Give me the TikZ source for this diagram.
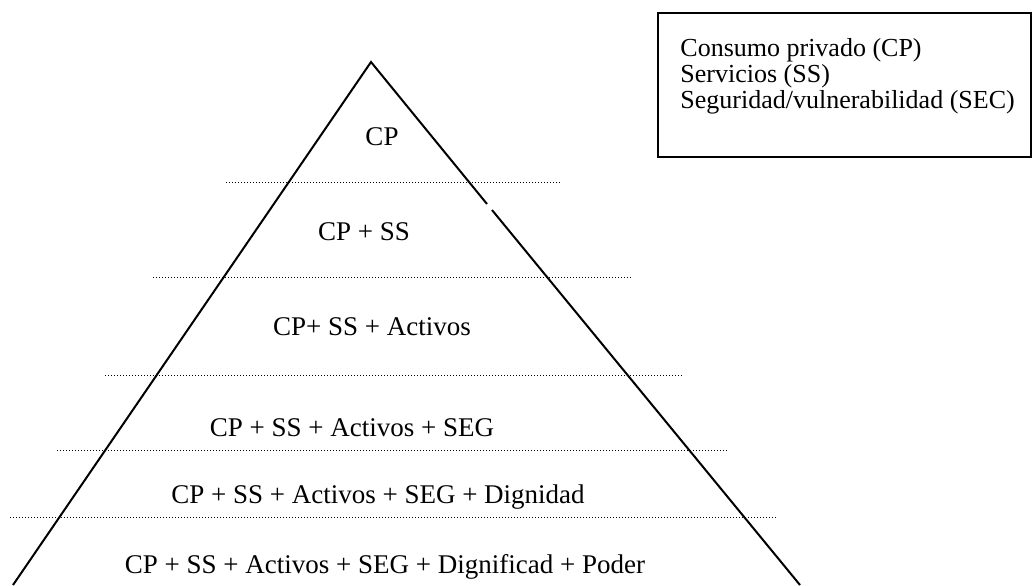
\documentclass[tikz,border=0pt]{standalone}
\usepackage{fontspec}
\setmainfont{Liberation Serif}
\begin{document}
\begin{tikzpicture}[x=0.5pt,y=-0.5pt,
  lbl/.style={anchor=base,inner sep=0pt,font=\fontsize{13.5}{13}\selectfont},
  keytext/.style={anchor=base west,inner sep=0pt,font=\fontsize{13}{13}\selectfont},
  sep/.style={line width=0.5pt,dash pattern=on 0.5pt off 1pt},
  edge/.style={line width=1pt,line join=miter}]
\useasboundingbox (0,0) rectangle (1033,585);
% pyramid
\coordinate (apex) at (371,62);
\coordinate (bl) at (13,585);
\coordinate (br) at (800,585);
\coordinate (gapA) at (487,204);
\coordinate (gapB) at (492,210);
\draw[edge] (bl) -- (apex) -- (gapA);
\draw[edge] (gapB) -- (br);
% separators
\coordinate (s1a) at (226,182); \coordinate (s1b) at (560,182);
\coordinate (s2a) at (153,277); \coordinate (s2b) at (632,277);
\coordinate (s3a) at (105,375); \coordinate (s3b) at (682,375);
\coordinate (s4a) at (57,450);  \coordinate (s4b) at (728,450);
\coordinate (s5a) at (10,517);  \coordinate (s5b) at (776,517);
\draw[sep] (s1a) -- (s1b);
\draw[sep] (s2a) -- (s2b);
\draw[sep] (s3a) -- (s3b);
\draw[sep] (s4a) -- (s4b);
\draw[sep] (s5a) -- (s5b);
% level labels
\node[lbl] (t1) at (382,145) {CP};
\node[lbl] (t2) at (364,240) {CP + SS};
\node[lbl] (t3) at (372,335) {CP+ SS + Activos};
\node[lbl] (t4) at (352,436) {CP + SS + Activos + SEG};
\node[lbl] (t5) at (378,503) {CP + SS + Activos + SEG + Dignidad};
\node[lbl] (t6) at (385,573) {CP + SS + Activos + SEG + Dignificad + Poder};
% legend box
\draw[line width=1pt] (658,13) rectangle (1031,157);
\node[keytext] (k1) at (680,56) {Consumo privado (CP)};
\node[keytext] (k2) at (680,82) {Servicios (SS)};
\node[keytext] (k3) at (680,108) {Seguridad/vulnerabilidad (SEC)};
\end{tikzpicture}
\end{document}
